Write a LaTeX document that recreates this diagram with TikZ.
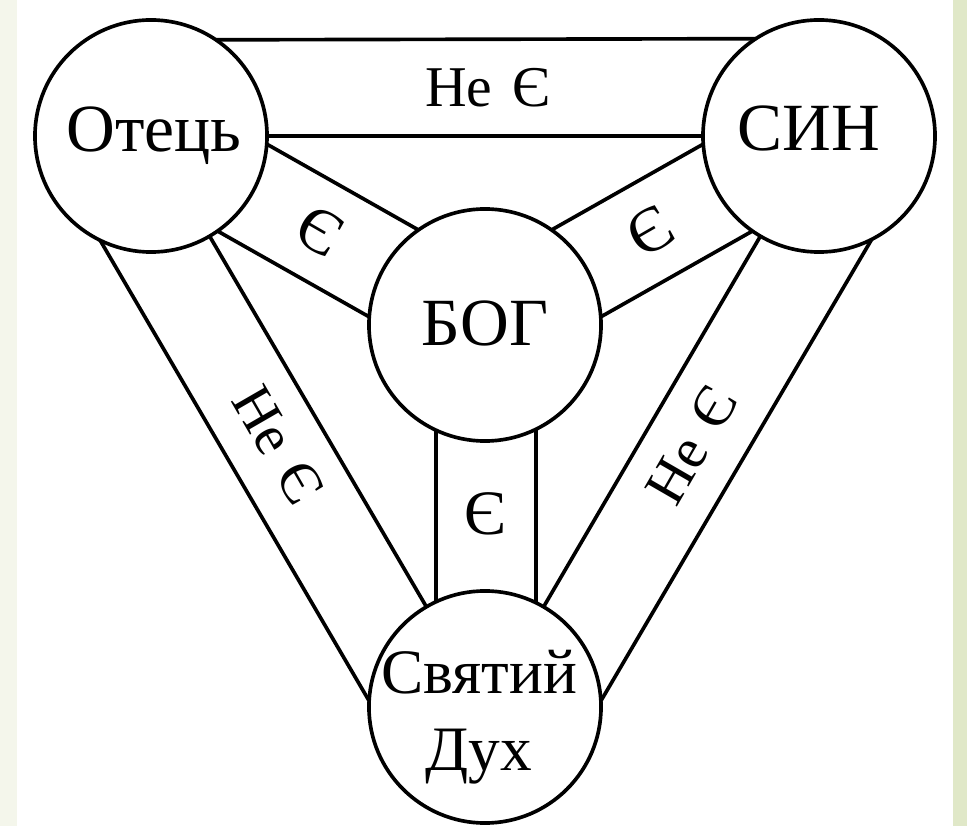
\documentclass[tikz,border=0pt]{standalone}
\usepackage{fontspec}
\setmainfont{Liberation Serif}
\usetikzlibrary{calc}
\definecolor{stripR}{HTML}{E0E8C8}
\definecolor{stripL}{HTML}{F4F6EB}
\begin{document}
\begin{tikzpicture}[x=0.025cm,y=-0.025cm,
  circ/.style={circle,draw,line width=2.6pt,minimum size=5.8cm,inner sep=0pt,outer sep=0pt,fill=white},
  band/.style={line width=2.6pt},
  big/.style={font=\fontsize{48}{55}\selectfont},
  lab/.style={font=\fontsize{41}{44}\selectfont,inner sep=0pt},
  el/.style={font=\fontsize{45}{50}\selectfont,inner sep=0pt}]
\useasboundingbox (0,0) rectangle (967,826);
\fill[stripL] (0,0) rectangle (17,826);
\fill[white] (17,0) rectangle (953,826);
\fill[stripR] (953,0) rectangle (967,826);
% circles
\node[circ,label={[big,xshift=0.08cm]center:Отець}] (F) at (151,136) {};
\node[circ,label={[big,xshift=-0.25cm,yshift=0.2cm]center:СИН}] (S) at (819,136) {};
\node[circ,label={[big,yshift=0.05cm]center:БОГ}] (G) at (485,325) {};
\node[circ,label={[font=\fontsize{45}{55}\selectfont,align=center,xshift=-0.15cm,yshift=-0.25cm]center:Святий\\Дух}] (H) at (485,707) {};
% outer bands
\draw[band] (F.56.7) -- (S.123.3);
\draw[band] (F) -- (S);
\draw[band] (F) -- (H);
\draw[band] (F.-116.5) -- (H.177);
\draw[band] (S) -- (H);
\draw[band] (S.-63.5) -- (H.3);
% inner bands
\draw[band] (F.-4) -- (G.125);
\draw[band] (F.-55) -- (G.176);
\draw[band] (S.184) -- (G.55);
\draw[band] (S.235) -- (G.4);
\draw[band] (G.-64.5) -- (H.64.5);
\draw[band] (G.-115.5) -- (H.115.5);
% labels
\node[lab] (t1) at (488,88) {Не\hspace{0.35em}Є};
\node[lab,rotate=-60] (t2) at (278,445) {Не\hspace{0.35em}Є};
\node[lab,rotate=60] (t3) at (692,445) {Не\hspace{0.35em}Є};
\node[el,rotate=-30] (e1) at (320,231) {Є};
\node[el,rotate=30] (e2) at (650,231) {Є};
\node[el] (e3) at (485,514) {Є};
\end{tikzpicture}
\end{document}
